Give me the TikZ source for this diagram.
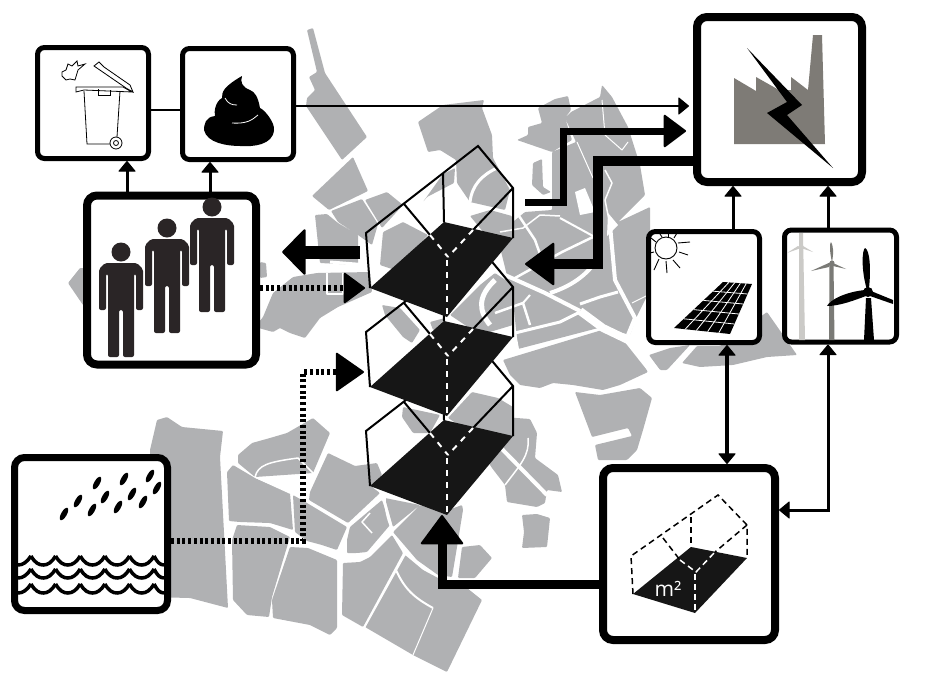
\documentclass[tikz,border=0pt]{standalone}
\usepackage{fontspec}
\newfontfamily\labelfont{Open Sans}
\usepackage{tikz}
\usetikzlibrary{arrows.meta, calc}
\usepackage{xcolor}
\definecolor{mapgray}{RGB}{176,177,179}
\definecolor{floorblack}{RGB}{22,22,22}
\definecolor{peoplefill}{RGB}{42,37,38}
\definecolor{plantgray}{RGB}{126,123,118}
\definecolor{midturbine}{RGB}{122,122,118}
\definecolor{farturbine}{RGB}{203,202,199}

\tikzset{
  smallbox/.style={draw, fill=white, line width=5pt, rounded corners=7pt, minimum size=111pt, inner sep=0pt},
  bigbox/.style={draw, fill=white, line width=8pt, rounded corners=10pt, inner sep=0pt},
  smalltip/.style={-{Triangle[length=11pt,width=18pt,round,line width=1pt]}},
  thinlink/.style={line width=3pt, smalltip},
  bothlink/.style={{Triangle[length=11pt,width=18pt,round,line width=1pt]}-{Triangle[length=11pt,width=18pt,round,line width=1pt]}},
  dotlink/.style={line width=6pt, dash pattern=on 3pt off 2.7pt},
  street/.style={white, line width=#1, line join=round},
  street/.default=2pt,
  wallline/.style={black, line width=2pt},
  floordash/.style={white, line width=2pt, dash pattern=on 6pt off 6pt},
  housefig/.pic={
    \draw[wallline] (370,288) -- (366,233) -- (478,146) -- (513,188) -- (513,238);
    \draw[wallline] (443,173) -- (444,222);
    \draw[wallline] (404,204) -- (430,235);
    \draw[wallline] (513,188) -- (473,230);
    \fill[floorblack] (370,288) -- (444,222) -- (513,238) -- (447,317) -- cycle;
    \draw[floordash] (430,235) -- (448,257);
    \draw[floordash] (473,230) -- (448,257);
    \draw[floordash] (447,260) -- (447,317);
  },
  personfig/.pic={
    \fill[peoplefill] (0,0) circle (9.5pt);
    \fill[peoplefill, rounded corners=2pt] (-22,58) -- (-22,17) -- (-16,11) -- (16,11) -- (22,17) -- (22,58) -- (15,58) -- (15,22) -- (13,22) -- (13,105) -- (2,105) -- (2,58) -- (-2,58) -- (-2,105) -- (-13,105) -- (-13,22) -- (-15,22) -- (-15,58) -- cycle;
  },
}

\begin{document}
\begin{tikzpicture}[x=1pt, y=-1pt]
  \useasboundingbox (0,0) rectangle (931,672);

  \fill[mapgray, rounded corners=1pt]
    (307,30) -- (313,28) -- (325,73) -- (367,137) -- (342,160) -- (306,106) -- (307,98) -- (315,90) -- (309,77) -- (317,72) -- cycle
    (353,157) -- (368,191) -- (329,210) -- (312,196) -- cycle
    (362,199) -- (378,224) -- (372,245) -- (358,235) -- (338,222) -- (331,211) -- cycle
    (315,215) -- (327,214) -- (338,223) -- (358,235) -- (358,265) -- (320,263) -- cycle
    (260,262) -- (266,263) -- (267,277) -- (260,278) -- cycle
    (68,283) -- (80,268) -- (90,268) -- (90,310) -- (83,305) -- cycle
    (255,327) -- (263,317) -- (273,293) -- (293,277) -- (317,273) -- (370,272) -- (372,292) -- (338,307) -- (320,318) -- (305,338) -- (290,333) -- (280,328) -- (273,332) -- cycle
    (418,122) -- (443,105) -- (484,100) -- (482,108) -- (492,135) -- (493,158) -- (510,190) -- (505,210) -- (470,202) -- (457,183) -- (456,160) -- (440,150) -- (428,152) -- cycle
    (423,202) -- (443,174) -- (455,168) -- (454,183) -- (427,197) -- cycle
    (365,200) -- (387,192) -- (403,205) -- (382,228) -- cycle
    (383,232) -- (403,222) -- (428,235) -- (395,270) -- (380,265) -- cycle
    (470,216) -- (490,210) -- (512,216) -- (512,240) -- (490,240) -- cycle
    (450,315) -- (480,285) -- (495,273) -- (513,285) -- (513,325) -- (480,335) -- cycle
    (382,305) -- (400,308) -- (420,330) -- (412,343) -- (403,337) -- (385,315) -- cycle
    (430,322) -- (445,318) -- (445,328) -- (433,330) -- cycle
    (403,407) -- (440,415) -- (430,433) -- (413,433) -- (402,417) -- cycle
    (448,418) -- (472,392) -- (498,398) -- (513,407) -- (513,440) -- (475,435) -- cycle
    (517,140) -- (528,135) -- (528,127) -- (542,123) -- (538,108) -- (555,99) -- (568,96) -- (571,110) -- (565,118) -- (572,140) -- (552,152) -- cycle
    (533,163) -- (542,159) -- (543,187) -- (551,192) -- (543,195) -- (532,185) -- cycle
    (552,152) -- (576,142) -- (565,118) -- (571,112) -- (600,97) -- (602,85) -- (612,97) -- (628,127) -- (640,165) -- (645,195) -- (618,222) -- (650,207) -- (650,290) -- (636,318) -- (630,335) -- (602,327) -- (518,349) -- (513,300) -- (497,235) -- (525,212) -- (552,210) -- cycle
    (503,360) -- (602,330) -- (613,332) -- (630,342) -- (648,372) -- (620,385) -- (603,390) -- (573,385) -- (553,383) -- (540,388) -- (520,385) -- (510,375) -- cycle
    (649,355) -- (670,348) -- (690,345) -- (667,370) -- (660,370) -- cycle
    (682,363) -- (697,346) -- (720,346) -- (767,312) -- (797,355) -- (767,357) -- (733,365) -- (700,367) -- cycle
    (575,392) -- (600,395) -- (640,388) -- (652,398) -- (643,430) -- (637,450) -- (627,460) -- (598,460) -- (595,445) -- (632,436) -- (628,428) -- (592,437) -- cycle
    (157,420) -- (167,417) -- (182,427) -- (223,431) -- (220,457) -- (228,608) -- (190,598) -- (150,597) -- (150,450) -- cycle
    (238,455) -- (252,443) -- (270,438) -- (287,433) -- (313,418) -- (330,433) -- (313,473) -- (255,477) -- (238,463) -- cycle
    (227,472) -- (233,465) -- (255,478) -- (290,493) -- (293,530) -- (270,523) -- (240,522) -- (229,521) -- cycle
    (237,525) -- (270,527) -- (290,537) -- (283,560) -- (272,597) -- (269,617) -- (247,615) -- (233,600) -- (232,540) -- cycle
    (293,495) -- (307,503) -- (347,527) -- (337,550) -- (322,545) -- (307,541) -- (295,532) -- cycle
    (328,453) -- (355,466) -- (377,463) -- (382,475) -- (372,487) -- (380,493) -- (348,523) -- (309,500) -- (310,492) -- cycle
    (290,547) -- (308,548) -- (337,560) -- (337,628) -- (330,635) -- (310,625) -- (273,618) -- (272,600) -- cycle
    (347,553) -- (347,540) -- (350,527) -- (382,500) -- (390,525) -- (367,552) -- (357,553) -- cycle
    (385,498) -- (420,505) -- (393,527) -- cycle
    (343,563) -- (360,562) -- (370,557) -- (392,535) -- (403,553) -- (363,627) -- (342,615) -- cycle
    (405,555) -- (423,570) -- (438,578) -- (467,588) -- (482,600) -- (447,672) -- (413,655) -- (365,627) -- cycle
    (393,532) -- (420,505) -- (443,512) -- (462,505) -- (463,510) -- (457,547) -- (452,577) -- (438,575) -- (417,560) -- cycle
    (462,547) -- (480,545) -- (492,558) -- (475,578) -- (458,578) -- cycle
    (503,417) -- (530,419) -- (537,433) -- (535,458) -- (558,475) -- (562,492) -- (547,490) -- (545,503) -- (537,507) -- (507,502) -- (505,485) -- (492,468) -- (480,450) -- cycle
    (522,515) -- (537,514) -- (550,518) -- (547,547) -- (522,548) -- (524,532) -- cycle;

  \fill[white] (575,192) -- (585,188) -- (595,212) -- (580,215) -- cycle;
  \fill[white] (608,213) -- (618,225) -- (607,236) -- cycle;
  \draw[street=1.5pt] (327,273) -- (327,294) -- (343,294) -- (343,273);
  \draw[street=3pt] (330,262) -- (368,265);
  \draw[street=3pt] (470,202) .. controls (472,185) and (482,175) .. (497,168);
  \draw[street=5pt] (495,280) .. controls (478,296) and (478,310) .. (490,325);
  \draw[street=4pt] (505,275) -- (545,293) -- (580,311);
  \draw[street=8pt] (580,311) -- (603,328) -- (628,340);
  \draw[street=10pt] (628,338) -- (655,372);
  \draw[street=4pt] (600,255) .. controls (590,272) and (575,285) .. (550,293);
  \draw[street=3pt] (580,304) -- (600,297) -- (618,292);
  \draw[street=4pt] (610,225) -- (615,280) -- (635,318) -- (628,335);
  \draw[street=1pt] (632,303) -- (650,294);
  \draw[street] (560,218) -- (593,236);
  \draw[street=2.5pt] (593,237) -- (562,252) -- (515,278);
  \draw[street=2.5pt] (519,216) -- (535,240) -- (545,268);
  \draw[street=1.5pt] (500,232) -- (523,228) -- (540,215) -- (560,216);
  \draw[street=2.5pt] (495,313) -- (523,303) -- (530,325);
  \draw[street] (530,295) -- (523,303);
  \draw[street] (515,333) -- (518,349);
  \draw[street=3pt] (515,333) -- (560,322) -- (580,312);
  \draw[street=1pt] (577,142) -- (593,178);
  \draw[street=1pt] (602,100) -- (605,135) -- (622,150) -- (628,142);
  \draw[street=1.5pt] (605,170) -- (612,183) -- (605,200) -- (610,225);
  \draw[street=1.5pt] (255,477) .. controls (258,465) and (268,462) .. (298,458) -- (313,473);
  \draw[street=1.5pt] (255,477) -- (290,493);
  \draw[street=1.5pt] (370,513) -- (362,522) -- (372,533);
  \draw[street=1pt] (405,555) -- (365,627);
  \draw[street=2pt] (396,570) .. controls (405,590) and (415,598) .. (433,608);
  \draw[street=1pt] (433,608) -- (413,655);
  \draw[street=1.5pt] (385,498) .. controls (385,515) and (390,525) .. (393,532);
  \draw[street=4pt] (500,447) -- (547,495);
  \draw[street=1.5pt] (528,438) .. controls (530,455) and (520,465) .. (505,485);

  \foreach \hy in {198,99,0}
    \pic at (0,\hy) {housefig};

  \node[smallbox] (bin) at (93,103) {};
  \node[smallbox] (poop) at (238,104) {};
  \node[bigbox, minimum size=169pt] (people) at (171.5,280) {};
  \node[bigbox, minimum size=165pt] (factory) at (779.5,99.5) {};
  \node[smallbox] (solar) at (704,287) {};
  \node[smallbox, minimum size=112pt] (wind) at (840.5,286) {};
  \node[bigbox, minimum size=172pt] (area) at (689,554) {};
  \node[bigbox, line width=7pt, minimum size=153pt] (rain) at (91,534) {};

  \coordinate (wastein) at (689,106);
  \coordinate (bendup) at (303,372);
  \coordinate (tiprain) at (364,372);
  \coordinate (tippeople) at (365,288);
  \coordinate (startleft) at (360,252);
  \coordinate (tipleft) at (282,252);
  \coordinate (startplant) at (525,202);
  \coordinate (bendplant) at (563,131);
  \coordinate (tipplant) at (686,131);
  \coordinate (bendcity) at (598,264);
  \coordinate (tipcity) at (525,264);
  \coordinate (tiphouse) at (442,515);

  \draw[line width=2.5pt] ([yshift=-7pt]bin.east) -- ([yshift=-6pt]poop.west);
  \draw[line width=2pt, smalltip] ([yshift=-2pt]poop.east) -- (wastein);
  \draw[thinlink] ([xshift=-44.5pt]people.north) -- ([xshift=34pt]bin.south);
  \draw[thinlink] ([xshift=38.5pt]people.north) -- ([xshift=-28pt]poop.south);
  \draw[thinlink] ([xshift=29pt]solar.north) -- ([xshift=-46.5pt]factory.south);
  \draw[thinlink] ([xshift=-12.5pt]wind.north) -- ([xshift=48.5pt]factory.south);
  \draw[line width=4pt, bothlink] ([xshift=23pt]solar.south) -- ([xshift=38pt]area.north);
  \draw[line width=3pt, bothlink] ([xshift=-12.5pt]wind.south) |- ([yshift=44pt]area.east);
  \draw[dotlink, -{Triangle[length=22pt,width=32pt,round,line width=2pt]}] ([yshift=-8pt]people.east) -- (tippeople);
  \draw[dotlink, -{Triangle[length=29pt,width=40pt,round,line width=2pt]}] ([yshift=-7pt]rain.east) -| (bendup) -- (tiprain);
  \draw[line width=13pt, -{Triangle[length=24pt,width=48pt,round,line width=2pt]}] (startleft) -- (tipleft);
  \draw[line width=7pt, -{Triangle[length=23pt,width=34pt,round,line width=2pt]}] (startplant) -| (bendplant) -- (tipplant);
  \draw[line width=10pt, -{Triangle[length=30pt,width=44pt,round,line width=2pt]}] ([yshift=-61.5pt]factory.west) -| (bendcity) -- (tipcity);
  \draw[line width=9pt, -{Triangle[length=30pt,width=44pt,round,line width=2pt]}] ([yshift=-30pt]area.west) -| (tiphouse);

  \foreach \px/\py in {121/252, 167/228, 212/207}
    \pic at (\px,\py) {personfig};

  \fill[white] (62,72) -- (66,70) -- (68,64) -- (72,66) -- (77,61) -- (78,66) -- (85,64) -- (78,70) -- (75,80) -- (70,79) -- (66,80) -- (62,76) -- cycle;
  \draw[line width=.8pt] (62,72) -- (66,70) -- (68,64) -- (72,66) -- (77,61) -- (78,66) -- (85,64) -- (78,70) -- (75,80) -- (70,79) -- (66,80) -- (62,76) -- cycle;
  \draw[line width=.8pt] (84,91) -- (87,144) -- (110,144);
  \draw[line width=.8pt] (120,91) -- (117,137);
  \draw[line width=.8pt] (76,87) -- (123,87) -- (132,92) -- (84,90) -- (76,92) -- cycle;
  \draw[line width=.8pt] (98,89) -- (98,95) -- (110,95) -- (110,90);
  \draw[line width=.8pt] (94,66) -- (99,62) -- (104,67) -- (130,85) -- (133,92) -- (126,88) -- cycle;
  \draw[line width=.8pt, fill=white] (116,143) circle (6pt);
  \draw[line width=.8pt] (116,143) circle (2.5pt);

  \fill (242,76) .. controls (223,87) and (222,92) .. (222,98) .. controls (215,102) and (214,112) .. (215,116) .. controls (205,117) and (204,125) .. (204,130) .. controls (207,143) and (227,146) .. (240,146) .. controls (253,147) and (273,145) .. (274,130) .. controls (275,123) and (265,110) .. (260,108) .. controls (258,97) and (255,92) .. (250,90) .. controls (242,87) and (240,82) .. cycle;
  \draw[white, line width=.8pt] (225,98) .. controls (228,104) and (232,105) .. (237,105);
  \draw[white, line width=.8pt] (232,123) .. controls (247,124) and (252,120) .. (258,115);

  \fill[plantgray] (734,144) -- (734,78) -- (756,91) -- (756,77) -- (779,90) -- (791,90) -- (791,77) -- (808,90) -- (813,35) -- (822,35) -- (825,144) -- cycle;
  \fill (747,48) -- (802,105) -- (787,115) -- (833,168) -- (767,113) -- (787,102) -- cycle;

  \draw[line width=.9pt] (666,248) circle (11pt);
  \foreach \ax/\ay/\bx/\by in {678/243/690/242, 679/252/688/255, 673/260/680/268, 666/261/667/273, 659/259/654/270, 674/238/677/233, 668/237/668/234, 662/237/660/234, 656/242/651/238, 654/252/650/253}
    \draw[line width=.9pt] (\ax,\ay) -- (\bx,\by);
  \coordinate (panela) at (674,328);
  \coordinate (panelb) at (723,282);
  \coordinate (panelc) at (752,284);
  \coordinate (paneld) at (730,334);
  \fill (panela) -- (panelb) -- (panelc) -- (paneld) -- cycle;
  \foreach \t in {0.2,0.4,0.6,0.8}{
    \draw[white, line width=.8pt] ($(panela)!\t!(paneld)$) -- ($(panelb)!\t!(panelc)$);
    \draw[white, line width=.8pt] ($(panela)!\t!(panelb)$) -- ($(paneld)!\t!(panelc)$);
  }

  \fill[farturbine] (799,233) -- (803,233) -- (805,340) -- (799,340) -- cycle;
  \fill[farturbine] (801,248) circle (2pt);
  \fill[farturbine] (801,248) -- (787,253) -- (798,246) -- cycle;
  \fill[farturbine] (801,248) -- (813,252) -- (803,246) -- cycle;
  \fill[midturbine] (829.5,263) -- (833.5,263) -- (834.5,340) -- (829,340) -- cycle;
  \fill[midturbine] (832,263) circle (2.5pt);
  \fill[midturbine] (832,262) .. controls (829,250) and (830,242) .. (831,242) .. controls (833,245) and (834,252) .. cycle;
  \fill[midturbine] (831,262) -- (811,271) -- (829,267) -- cycle;
  \fill[midturbine] (833,263) -- (846,269) -- (833,266) -- cycle;
  \fill (866,298) -- (871,298) -- (874,340) -- (864,340) -- cycle;
  \fill (868,292) circle (5pt);
  \fill (867,290) .. controls (861,270) and (862,250) .. (865,248) .. controls (870,250) and (871,270) .. (869,288) -- cycle;
  \fill (865,290) .. controls (845,292) and (830,300) .. (827,306) .. controls (840,306) and (855,300) .. (866,296) -- cycle;
  \fill (871,291) -- (893,300) -- (893,304) -- (870,296) -- cycle;

  \foreach \rx/\ry in {64/514, 78/501, 97/483, 92/510, 105/497, 124/479, 118/507, 132/494, 150/476, 143/502, 157/488}
    \fill (\rx,\ry) ellipse [x radius=7pt, y radius=2.8pt, rotate=60];
  \foreach \wy in {565,578,593}{
    \draw[line width=3.5pt] (18,\wy) .. controls (23,\wy) and (27,\wy-3) .. (31,\wy-9);
    \foreach \wx in {31,55.6,80.3,104.9,129.5}
      \draw[line width=3.5pt] (\wx,\wy-9) .. controls (\wx+4,\wy-2) and (\wx+8,\wy) .. (\wx+12.3,\wy) .. controls (\wx+17,\wy) and (\wx+21,\wy-3) .. (\wx+24.6,\wy-9);
    \draw[line width=3.5pt] (154.1,\wy-9) .. controls (157,\wy-3) and (160,\wy) .. (164,\wy);
  }

  \fill[floorblack] (633,594) -- (691,547) -- (747,558) -- (695,613) -- cycle;
  \draw[line width=1.5pt, dash pattern=on 6pt off 4pt] (633,594) -- (631,556) -- (718,495) -- (747,525) -- (747,558);
  \draw[line width=1.5pt, dash pattern=on 6pt off 4pt] (663,538) -- (680,560);
  \draw[line width=1.5pt, dash pattern=on 6pt off 4pt] (691,517) -- (691,547);
  \draw[line width=1.5pt, dash pattern=on 6pt off 4pt] (747,525) -- (715,552);
  \draw[white, line width=1.5pt, dash pattern=on 6pt off 4pt] (680,560) -- (696,572) -- (715,552);
  \draw[white, line width=1.5pt, dash pattern=on 6pt off 4pt] (695,574) -- (695,613);
  \node[text=white, font=\labelfont\fontsize{21}{21}\selectfont, inner sep=0pt] (areatext) at (668,589) {m²};
\end{tikzpicture}
\end{document}
